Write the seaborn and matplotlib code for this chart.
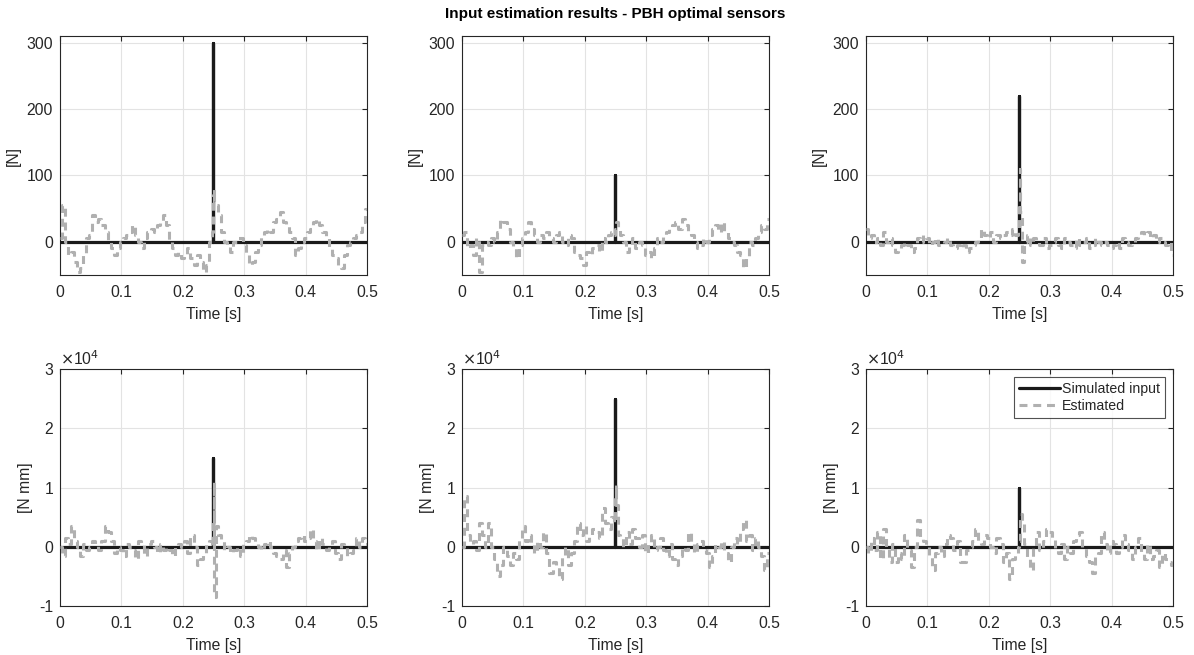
import numpy as np
import pandas as pd
import matplotlib
matplotlib.use("Agg")
import matplotlib.pyplot as plt
import seaborn as sns

sns.set_theme(style="white")
plt.rcParams['font.family'] = ['Liberation Sans', 'DejaVu Sans']
plt.rcParams['axes.unicode_minus'] = False

# ---------------- data ----------------
title = "Input estimation results - PBH optimal sensors"
ylabels = ["[N]", "[N]", "[N]", "[N mm]", "[N mm]", "[N mm]"]
xlabel = "Time [s]"
legend_labels = ["Simulated input", "Estimated"]

# sampling grid of the estimate (s) and extra samples around the impact
t_grid = np.round(np.arange(0, 0.5001, 0.005), 4)
t_spike = [0.2485, 0.2505, 0.2525]

# simulated input: zero except a short impulse near t = 0.25 s
sim_t = [0.0, 0.249, 0.249, 0.2497, 0.2497, 0.5]
sim_peak = [300, 100, 220, 15000, 25000, 10000]
sim_shape = [0, 0, 1, 1, 0, 0]

est1 = [5, 55, 0, -20, -15, -30, -45, -40, -20, 5, 10, 40, 30, 35, 25, 15, 0, -10, -20, -10,
        0, 5, 10, 15, 25, 10, 0, -10, 5, 15, 20, 15, 25, 30, 40, 25, 0, -10, -20, -15,
        -25, -20, -10, -25, -35, -20, -30, -45, -35, 0, 70, 55, 40, 15, 0, -5, -15, 0, 5, 5,
        -5, -20, -35, -30, -15, -5, 10, 15, 20, 15, 30, 35, 45, 30, 25, 15, 5, -20, -10, 0,
        5, 15, 20, 30, 35, 25, 15, 5, -10, -20, -25, -35, -40, -20, -5, 0, 5, 10, 15, 30, 50]
est1_spike = [15, 80, 60]

est2 = [10, 15, -10, -5, -20, 5, -45, -5, 0, -5, 5, 0, 15, 35, 30, 20, 0, -10, -25, -5,
        5, 15, 30, 20, 10, 0, 10, 5, 15, 5, 0, 10, 15, 0, -5, 10, 5, -15, -20, -25,
        -35, -15, -20, -10, -5, -15, 5, 0, 10, 15, 20, 20, 10, 0, -15, -5, 5, -10, 0, -5,
        -20, -15, -25, -10, 5, 0, 10, 15, 20, 25, 30, 20, 35, 25, 15, 10, 0, -10, -5, 5,
        0, 10, 20, 25, 15, 30, 15, 5, 0, -5, -15, -20, -40, -25, 0, -5, 5, 15, 25, 20, 35]
est2_spike = [10, 25, 30]

est3 = [20, 5, 10, 0, 5, -5, 15, 0, 5, -5, -15, -10, -5, 0, -5, -15, -10, 5, 0, 10,
        5, -5, 0, 5, -5, -5, 0, 5, -5, -10, -5, -10, -5, -15, -10, -5, 0, 5, 20, 10,
        5, 15, 0, 10, 5, 10, 15, 10, 20, 10, 60, -30, 0, 10, -5, 5, 0, -5, 5, -10,
        -5, 0, 5, -5, -10, 5, 0, -5, -10, 5, -5, 0, 5, -10, -5, 5, 0, -5, 0, -5,
        -10, -5, 0, -10, 5, 0, -5, 0, 5, 10, 15, 10, 15, 5, 10, 0, 5, 0, -5, 0, -20]
est3_spike = [15, 110, 45]

est4 = [0, -1500, 1500, 500, 3500, 1000, 0, -1500, 500, -500, 0, 1000, 500, -500, 1000, 3500,
        2500, 1000, -1000, 0, -500, -1500, 500, 0, -500, -2000, 1000, 500, -1500, 500, 1000, 0,
        -1000, 500, -500, 0, -500, -1500, 0, 500, 0, 1000, -1000, 2000, 0, -3000, -2000, -1000,
        500, 1000, 5000, 3500, 2000, 1000, -500, 0, -1000, -500, 0, -1500, 500, 1000, 2000, 1500,
        500, 0, -500, 500, 1000, 0, -1000, -1500, -2000, -500, -3500, -1000, 0, 1000, 1500, 2000,
        1000, 1500, 3000, 1000, -500, 1500, 500, -500, 0, 1000, -1000, -2000, 500, 0, -1500, -1000,
        -500, 1500, 0, 1500, 500]
est4_spike = [0, 11000, -8500]

est5 = [0, 8500, 2000, 500, 1000, -500, 4000, 2000, 0, 4000, 0, -2000, -5000, -3000, 0, -1500,
        -3000, -1000, -2000, 1500, 3500, 1000, 2000, 500, -1000, 1000, 0, 2500, -1000, -4500, -2500,
        -3000, -5500, -1500, 0, -3000, -1000, 1000, 4000, 2000, 3500, 1000, 2000, 3000, 2500, 1500,
        6500, 4000, 3000, 5000, 9000, 2000, 1500, 0, 2500, 500, 3000, 1500, 0, 2000, -1000, 500,
        2000, -500, 0, 1500, -500, -1500, 500, -2000, -3000, -1500, 0, -500, 2500, 500, -1000, 500,
        1000, -500, -1000, -3500, -1500, 500, 0, 1000, -1000, -2500, 0, 1500, 500, 3000, 4500, 1000,
        2000, -500, 1500, 0, -1500, -4000, -1000]
est5_spike = [4000, 10500, 7000]

est6 = [0, -1000, 1500, -500, 2500, -2000, 3000, 0, -2500, 500, -2500, -1000, -2000, 2000, -500,
        -3500, 0, 4500, 1500, 1000, 0, -1500, -4000, -1000, 0, -1500, 500, 2000, 1500, -500, 1000,
        -2500, -2500, -500, 0, 1000, 3000, 1000, 500, 2000, 1500, 0, -1000, 1500, 500, -2500, -1000,
        -5500, -2000, -1000, 1000, 4000, 500, -2000, -4000, 0, 2500, -500, 1000, 3000, 2500, 1500,
        -500, -1000, 500, -2000, 0, -1000, 1000, 2000, 2500, 0, -1500, -2500, -4500, -1500, -1000,
        2500, 500, -1000, 1000, 500, -1000, 0, 2000, 500, -500, -2000, 0, 1500, -1000, -2000, 500,
        -2000, -1500, -500, -3500, -1000, -2000, -2500, -3000]
est6_spike = [0, 3000, 5500]

est_main = [est1, est2, est3, est4, est5, est6]
est_extra = [est1_spike, est2_spike, est3_spike, est4_spike, est5_spike, est6_spike]

# ---------------- figure ----------------
W, H = 1194, 655
fig = plt.figure(figsize=(W / 100, H / 100), dpi=100)

col_left = [60, 462, 866]
ax_w = 307
rows = [(36, 275), (369, 606)]

txt = "#262626"
black = "#1a1a1a"
gray = "#b0b0b0"
fs = 11.3

for i in range(6):
    r, c = divmod(i, 3)
    top, bot = rows[r]
    ax = fig.add_axes([col_left[c] / W, 1 - bot / H, ax_w / W, (bot - top) / H])

    df = pd.DataFrame({
        "t": list(t_grid) + t_spike,
        "v": list(est_main[i]) + est_extra[i],
    }).sort_values("t")
    sim = pd.DataFrame({"t": sim_t, "v": [s * sim_peak[i] for s in sim_shape]})

    sns.lineplot(data=sim, x="t", y="v", ax=ax, color=black, lw=2.3,
                 estimator=None, sort=False, label=legend_labels[0], zorder=3)
    sns.lineplot(data=df, x="t", y="v", ax=ax, color=gray, lw=2.2,
                 linestyle=(0, (2.6, 1.9)), drawstyle="steps-mid", estimator=None,
                 sort=False, label=legend_labels[1], zorder=4)

    ax.set_xlim(0, 0.5)
    ax.set_xticks([0, 0.1, 0.2, 0.3, 0.4, 0.5])
    ax.set_xticklabels(["0", "0.1", "0.2", "0.3", "0.4", "0.5"])
    if r == 0:
        ax.set_ylim(-50, 310)
        ax.set_yticks([0, 100, 200, 300])
        ax.set_yticklabels(["0", "100", "200", "300"])
    else:
        ax.set_ylim(-10000, 30000)
        ax.set_yticks([-10000, 0, 10000, 20000, 30000])
        ax.set_yticklabels(["-1", "0", "1", "2", "3"])
        ax.text(0.0, 1.005, r"$\times$10$^{4}$", transform=ax.transAxes,
                ha="left", va="bottom", fontsize=fs, color=txt)

    ax.set_xlabel(xlabel, fontsize=fs, color=txt, labelpad=5)
    ax.set_ylabel(ylabels[i], fontsize=fs, color=txt, labelpad=4)
    ax.grid(True, color="#e3e3e3", lw=0.8)
    ax.set_axisbelow(True)
    ax.tick_params(axis="x", pad=7)
    ax.tick_params(axis="y", pad=5)
    ax.tick_params(direction="in", length=3.5, width=0.8, colors=txt,
                   labelsize=fs, top=True, right=True)
    for s in ax.spines.values():
        s.set_color("#262626")
        s.set_linewidth(0.8)

    if i == 5:
        leg = ax.legend(loc="upper right", fontsize=10.2, frameon=True, fancybox=False,
                        edgecolor="#262626", handlelength=2.9, borderaxespad=0.55,
                        borderpad=0.35, labelspacing=0.25, handletextpad=0.15)
        leg.get_frame().set_linewidth(0.8)
        for t_ in leg.get_texts():
            t_.set_color(txt)
    else:
        ax.get_legend().remove()

fig.text(615 / W, 1 - 14 / H, title, ha="center", va="center",
         fontsize=11, fontweight="bold", color="#000000")

fig.savefig("out.png", dpi=100, facecolor="white")
